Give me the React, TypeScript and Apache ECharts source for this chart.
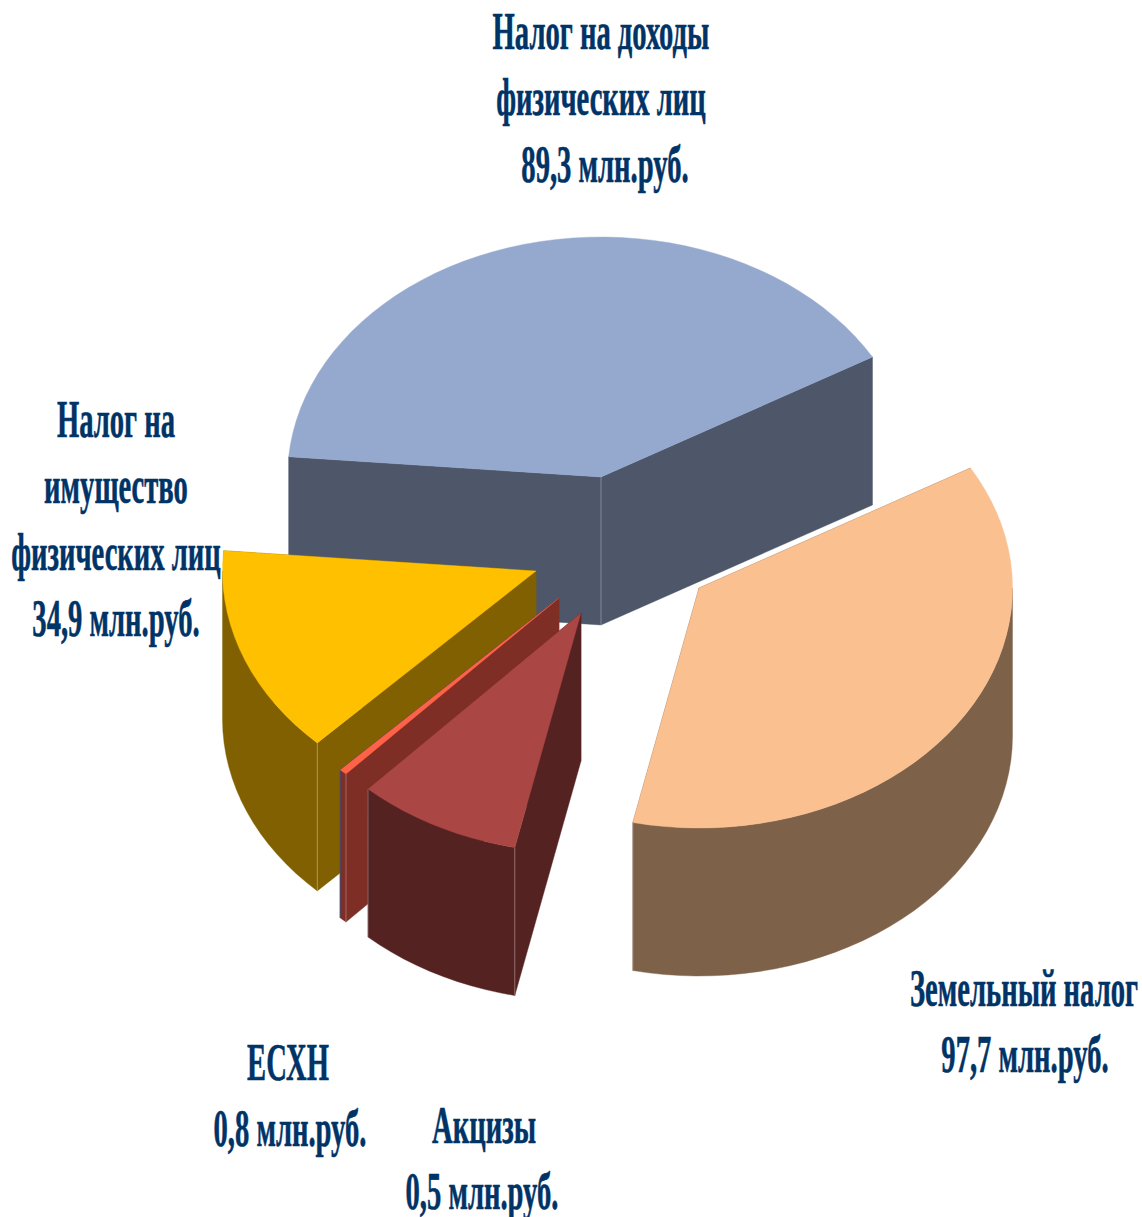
import React, { useEffect, useRef } from "react";
import * as echarts from "echarts";

// Slices in counter-clockwise order, starting at the right edge of the first slice.
const sliceNames = ["Налог на доходы физических лиц", "Налог на имущество физических лиц", "ЕСХН", "Акцизы", "Земельный налог"];
// Values printed in the labels (млн.руб.)
const labelValues = ["89,3", "34,9", "0,8", "0,5", "97,7"];
// Share of the circle each slice occupies in the picture (%).
const drawnShares = [40.3, 14.05, 0.4, 8.5, 36.7];
const labelTitles = [
  ["Налог на доходы", "физических лиц"],
  ["Налог на", "имущество", "физических лиц"],
  ["ЕСХН"],
  ["Акцизы"],
  ["Земельный налог"],
];

const topColors = ["#95A9CF", "#FFC000", "#FF6347", "#AA4644", "#FAC090"];
const wallColors = ["#4D5769", "#806000", "#7F2E25", "#552222", "#7E6149"];
const apexes = [[601, 477], [536, 571], [559, 598], [581, 613], [699, 588]];
const labelBoxes = [
  { x: 601, y: 47, dx: [0, 0, 4] },
  { x: 116, y: 435, dx: [0, 0, 0, 0] },
  { x: 288, y: 1078, dx: [0, 2] },
  { x: 484, y: 1141, dx: [0, -2] },
  { x: 1024, y: 1004, dx: [0, 1] },
];

const W = 1142;
const H = 1217;
const RX = 313.5;
const RY = 240;
const DEPTH = 148;
const START = 30;
const LINE = 66.6;
const FONT = 53;
const SCALE_X = 0.54;
const TEXT_COLOR = "#003366";
const BASELINE_SHIFT = 43;

const total = drawnShares.reduce((s, v) => s + v, 0);
const starts: number[] = [];
drawnShares.reduce((acc, v, i) => {
  starts[i] = acc;
  return acc + (v / total) * 360;
}, START);

function rim(i: number, deg: number): [number, number] {
  const t = (deg * Math.PI) / 180;
  return [apexes[i][0] + RX * Math.cos(t), apexes[i][1] - RY * Math.sin(t)];
}
function arc(i: number, a: number, b: number): [number, number][] {
  const pts: [number, number][] = [];
  const n = Math.max(1, Math.ceil((b - a) / 3));
  for (let k = 0; k <= n; k++) pts.push(rim(i, a + ((b - a) * k) / n));
  return pts;
}
const down = (p: [number, number]): [number, number] => [p[0], p[1] + DEPTH];

function renderSlice(params: any, api: any) {
  const i = params.dataIndex;
  const a = starts[i];
  const b = a + (api.value(0) / total) * 360;
  const apex = apexes[i] as [number, number];
  const wall = wallColors[i];
  const children: any[] = [];
  const poly = (points: [number, number][], fill: string) => children.push({ type: "polygon", shape: { points }, style: { fill, stroke: fill, lineWidth: 0.4 } });
  const seam = (p: [number, number]) =>
    children.push({ type: "line", shape: { x1: p[0], y1: p[1], x2: p[0], y2: p[1] + DEPTH }, style: { stroke: "rgba(255,255,255,0.3)", lineWidth: 1 } });
  // side walls from the apex to both rim ends
  [a, b].forEach((deg) => {
    const r = rim(i, deg);
    poly([apex, r, down(r), down(apex)], wall);
  });
  // curved outer wall: only the front half of the rim shows
  [[180, 360], [540, 720]].forEach(([lo, hi]) => {
    const f = Math.max(a, lo);
    const t = Math.min(b, hi);
    if (t > f) {
      const top = arc(i, f, t);
      poly([...top, ...top.slice().reverse().map(down)], wall);
    }
  });
  // light vertical seams on the visible edges
  if (a < 90 && b > 90) seam(apex);
  [a, b].forEach((deg) => {
    const n = ((deg % 360) + 360) % 360;
    if (n > 200 && n < 260) seam(rim(i, deg));
  });
  // thin dark edge of the narrow slice
  if (drawnShares[i] < 1) {
    const r = rim(i, a);
    children.push({ type: "polyline", shape: { points: [apex, r, down(r)] }, style: { stroke: "#3A3A5E", lineWidth: 1, fill: "none" } });
  }
  // top face
  poly([apex, ...arc(i, a, b)], topColors[i]);
  return { type: "group", children };
}

function labelGraphics() {
  const out: any[] = [];
  labelTitles.forEach((lines, i) => {
    const all = [...lines, `${labelValues[i]} млн.руб.`];
    all.forEach((text, k) => {
      out.push({
        type: "text",
        x: labelBoxes[i].x + (labelBoxes[i].dx[k] || 0),
        y: labelBoxes[i].y + k * LINE - BASELINE_SHIFT,
        scaleX: SCALE_X,
        style: {
          text,
          fill: TEXT_COLOR,
          stroke: TEXT_COLOR,
          lineWidth: 0.6,
          font: `bold ${FONT}px "Liberation Serif", serif`,
          textAlign: "center",
        },
      });
    });
  });
  return out;
}

export default function App() {
  const ref = useRef<HTMLDivElement>(null);
  useEffect(() => {
    document.body.style.margin = "0";
    const chart = echarts.init(ref.current!, undefined, { renderer: "svg" });
    chart.setOption({
      animation: false,
      backgroundColor: "#FFFFFF",
      graphic: { elements: labelGraphics() },
      series: [
        {
          type: "custom",
          coordinateSystem: "none",
          silent: true,
          renderItem: renderSlice,
          data: drawnShares.map((v, i) => ({ name: sliceNames[i], value: [v] })),
        },
      ],
    });
    return () => chart.dispose();
  }, []);
  return <div ref={ref} style={{ width: W, height: H, overflow: "hidden" }} />;
}
